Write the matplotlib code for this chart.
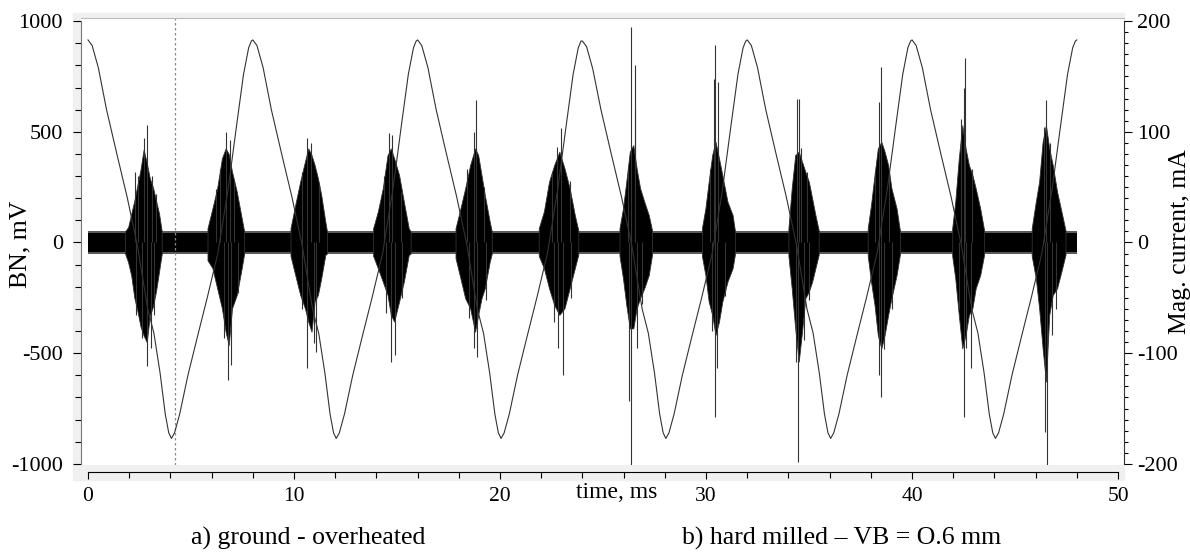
import matplotlib
matplotlib.use('Agg')
import matplotlib.pyplot as plt
from matplotlib.patches import Rectangle
from matplotlib.ticker import MultipleLocator

plt.rcParams['font.family'] = ['Liberation Serif', 'DejaVu Serif']

# magnetising current, mA (right axis), one row per 8 ms cycle
current_t = [
    0.0, 0.2, 0.5, 0.9, 1.4, 1.9, 2.4, 2.9, 3.2, 3.5, 3.75, 3.92, 4.05, 4.2, 4.45, 4.85, 5.3, 5.8, 6.3, 6.8, 7.2, 7.55, 7.8, 7.93,
    8.0, 8.2, 8.5, 8.9, 9.4, 9.9, 10.4, 10.9, 11.2, 11.5, 11.75, 11.92, 12.05, 12.2, 12.45, 12.85, 13.3, 13.8, 14.3, 14.8, 15.2, 15.55, 15.8, 15.93,
    16.0, 16.2, 16.5, 16.9, 17.4, 17.9, 18.4, 18.9, 19.2, 19.5, 19.75, 19.92, 20.05, 20.2, 20.45, 20.85, 21.3, 21.8, 22.3, 22.8, 23.2, 23.55, 23.8, 23.93,
    24.0, 24.2, 24.5, 24.9, 25.4, 25.9, 26.4, 26.9, 27.2, 27.5, 27.75, 27.92, 28.05, 28.2, 28.45, 28.85, 29.3, 29.8, 30.3, 30.8, 31.2, 31.55, 31.8, 31.93,
    32.0, 32.2, 32.5, 32.9, 33.4, 33.9, 34.4, 34.9, 35.2, 35.5, 35.75, 35.92, 36.05, 36.2, 36.45, 36.85, 37.3, 37.8, 38.3, 38.8, 39.2, 39.55, 39.8, 39.93,
    40.0, 40.2, 40.5, 40.9, 41.4, 41.9, 42.4, 42.9, 43.2, 43.5, 43.75, 43.92, 44.05, 44.2, 44.45, 44.85, 45.3, 45.8, 46.3, 46.8, 47.2, 47.55, 47.8, 47.93,
    48.0,
]
current_ma = [
    183, 178, 158, 120, 80, 41, -3, -60, -82, -118, -155, -172, -177, -172, -155, -120, -86, -49, -10, 48, 104, 152, 176, 182,
    183, 178, 158, 120, 80, 41, -3, -60, -82, -118, -155, -172, -177, -172, -155, -120, -86, -49, -10, 48, 104, 152, 176, 182,
    183, 178, 158, 120, 80, 41, -3, -60, -82, -118, -155, -172, -177, -172, -155, -120, -86, -49, -10, 48, 104, 152, 176, 182,
    182, 177, 157, 120, 80, 41, -3, -60, -82, -118, -155, -172, -177, -172, -155, -120, -86, -49, -10, 48, 104, 152, 176, 182,
    183, 178, 158, 120, 80, 41, -3, -60, -82, -118, -155, -172, -177, -172, -155, -120, -86, -49, -10, 48, 104, 152, 176, 182,
    183, 178, 158, 120, 80, 41, -3, -60, -82, -118, -155, -172, -177, -172, -155, -120, -86, -49, -10, 48, 104, 152, 176, 182,
    183,
]

# Barkhausen noise: record span, dense background level and its ragged fringe, mV
trace_span = [0.0, 48.0]
noise_level = 45
noise_fringe = 54

# envelope of each noise burst (time ms, upper mV, lower mV)
burst_t = [
    [1.8, 1.95, 2.1, 2.25, 2.4, 2.55, 2.7, 2.85, 3.0, 3.15, 3.3, 3.45, 3.58],
    [5.8, 6.04, 6.27, 6.5, 6.68, 6.83, 6.99, 7.22, 7.46, 7.58],
    [9.83, 10.06, 10.3, 10.53, 10.69, 10.85, 11.0, 11.16, 11.32, 11.52, 11.6],
    [13.84, 14.07, 14.31, 14.54, 14.7, 14.86, 15.1, 15.33, 15.57, 15.66],
    [17.84, 18.08, 18.31, 18.55, 18.79, 18.94, 19.1, 19.26, 19.5, 19.6],
    [21.88, 22.13, 22.38, 22.63, 22.88, 23.13, 23.38, 23.63, 23.8],
    [25.8, 25.97, 26.13, 26.3, 26.47, 26.63, 26.8, 27.0, 27.22, 27.38],
    [29.8, 29.97, 30.13, 30.3, 30.46, 30.63, 30.79, 31.04, 31.29, 31.4],
    [34.0, 34.16, 34.33, 34.5, 34.66, 34.82, 34.99, 35.15, 35.31, 35.47],
    [37.85, 38.01, 38.18, 38.34, 38.51, 38.67, 38.84, 39.0, 39.25, 39.41],
    [41.95, 42.1, 42.27, 42.44, 42.6, 42.76, 42.93, 43.09, 43.31, 43.5],
    [45.81, 46.01, 46.17, 46.34, 46.5, 46.66, 46.83, 47.04, 47.29, 47.45],
]
burst_hi = [
    [50, 70, 130, 190, 260, 330, 420, 360, 290, 250, 190, 130, 50],
    [64, 154, 245, 380, 425, 400, 320, 230, 110, 50],
    [64, 170, 275, 365, 425, 395, 350, 290, 215, 94, 50],
    [64, 140, 245, 395, 425, 380, 305, 185, 64, 50],
    [64, 154, 245, 350, 425, 395, 305, 215, 94, 50],
    [64, 140, 275, 350, 410, 335, 245, 124, 55],
    [64, 154, 275, 410, 440, 335, 245, 185, 124, 55],
    [64, 154, 275, 395, 455, 380, 305, 185, 124, 55],
    [64, 245, 395, 410, 365, 320, 275, 200, 124, 55],
    [64, 170, 305, 425, 455, 410, 350, 245, 154, 55],
    [64, 185, 380, 530, 425, 350, 305, 245, 154, 55],
    [64, 185, 275, 455, 530, 425, 350, 230, 124, 55],
]
burst_lo = [
    [-50, -90, -150, -250, -310, -380, -420, -450, -330, -290, -220, -130, -50],
    [-80, -116, -207, -297, -403, -463, -297, -237, -116, -50],
    [-60, -147, -237, -297, -357, -403, -267, -237, -162, -56, -50],
    [-60, -116, -177, -237, -327, -357, -267, -177, -56, -50],
    [-70, -162, -252, -297, -403, -327, -252, -207, -87, -50],
    [-60, -116, -207, -282, -327, -297, -207, -116, -55],
    [-60, -162, -282, -388, -388, -297, -252, -207, -147, -55],
    [-60, -147, -267, -327, -418, -357, -267, -177, -116, -55],
    [-60, -207, -388, -538, -403, -252, -222, -177, -116, -55],
    [-60, -177, -282, -418, -478, -418, -327, -252, -147, -55],
    [-60, -162, -327, -478, -418, -327, -297, -207, -147, -55],
    [-60, -162, -297, -478, -628, -327, -237, -207, -116, -55],
]

# single spikes sticking out of the bursts
spike_t = [2.84, 2.71, 2.30, 2.45, 3.1, 3.3, 2.87, 2.33, 2.6, 3.2, 3.07,
           6.68, 6.9, 6.4, 6.2, 7.1, 6.8, 6.95, 6.6, 7.3,
           10.65, 10.83, 10.4, 11.2, 10.65, 10.95, 11.05, 10.4,
           14.6, 14.78, 14.35, 15.2, 14.73, 14.9, 14.45, 15.25,
           18.84, 18.75, 18.4, 19.2, 18.75, 18.9, 18.5, 19.3,
           22.97, 22.75, 22.5, 23.4, 23.05, 22.83, 22.6, 23.45,
           26.35, 26.53, 26.57, 26.2, 26.38, 26.28, 26.63, 26.9,
           30.43, 30.58, 30.38, 30.2, 30.43, 30.55, 30.3, 30.9,
           34.4, 34.53, 34.63, 34.9, 34.48, 34.35, 34.75, 35.0,
           38.47, 38.42, 38.2, 38.9, 38.4, 38.48, 38.65, 39.05,
           42.58, 42.5, 42.4, 42.9, 42.5, 42.62, 42.84, 42.3,
           46.5, 46.4, 46.7, 46.53, 46.46, 46.8, 47.0]
spike_mv = [530, 470, 320, 300, 300, 220, -560, -327, -430, -327, -478,
            500, 463, 330, 240, 280, -620, -553, -430, -230,
            470, 448, 320, 270, -568, -455, -493, -300,
            493, 485, 300, 230, -538, -508, -320, -250,
            643, 500, 330, 250, -478, -515, -340, -260,
            515, 430, 320, 280, -598, -478, -360, -250,
            975, 800, 605, 330, -1012, -718, -478, -280,
            892, 726, 740, 330, -786, -568, -400, -240,
            650, 650, 425, 320, -990, -540, -440, -260,
            794, 636, 320, 310, -598, -696, -480, -300,
            832, 696, 560, 330, -786, -478, -568, -300,
            643, 520, 450, -1012, -855, -420, -300]

marker_t = 4.2

W, H = 1190, 554
fig = plt.figure(figsize=(W / 100, H / 100), dpi=100)
fig.patches.append(Rectangle((73 / W, 1 - 480 / H), (1124 - 73) / W, (480 - 13) / H,
                             transform=fig.transFigure, color='#f0f0f0', zorder=-10))

ax = fig.add_axes([81 / W, 1 - 465 / H, (1124 - 81) / W, (465 - 18) / H])
ax.set_facecolor('white')

ax.fill_between(trace_span, [noise_fringe] * 2, [-noise_fringe] * 2, color='#5a5a5a', lw=0)
ax.fill_between(trace_span, [noise_level] * 2, [-noise_level] * 2, color='black', lw=0)
for t, hi, lo in zip(burst_t, burst_hi, burst_lo):
    ax.fill_between(t, hi, lo, color='black', lw=0.6, edgecolor='#333333')
ax.vlines(spike_t, 0, spike_mv, color='#333333', lw=0.8)
ax.axvline(marker_t, color='#888888', lw=0.9, ls=(0, (2, 2)))

ax.set_xlim(-0.34, 50.29)
ax.set_ylim(-1005, 1014)
ax.xaxis.set_major_locator(MultipleLocator(10))
ax.xaxis.set_minor_locator(MultipleLocator(2))
ax.yaxis.set_minor_locator(MultipleLocator(100))
ax.set_yticks([-1000, -500, 0, 500, 1000])
ax.set_yticklabels(['-1000', '-500', '0', '500', '1000'])

ax.spines['bottom'].set_position(('outward', 5))
ax.spines['bottom'].set_bounds(0, 50)
ax.spines['left'].set_bounds(-1000, 1000)
ax.spines['left'].set_color('#777777')
ax.spines['top'].set_color('#bbbbbb')
ax.spines['right'].set_visible(False)
ax.tick_params(axis='both', which='both', direction='out', labelsize=16, width=0.8)
ax.tick_params(axis='y', which='major', length=5.5, pad=7.5)
ax.tick_params(axis='y', which='minor', length=4)
ax.tick_params(axis='x', which='major', length=5, pad=6, labelsize=15.5)
ax.tick_params(axis='x', which='minor', length=4)

ax2 = ax.twinx()
ax2.plot(current_t, current_ma, color='#333333', lw=0.8)
ax2.set_ylim(-201, 202.8)
ax2.yaxis.set_minor_locator(MultipleLocator(10))
ax2.set_yticks([-200, -100, 0, 100, 200])
ax2.set_yticklabels(['-200', '-100', '0', '100', '200'])
for s in ['top', 'left', 'bottom']:
    ax2.spines[s].set_visible(False)
ax2.spines['right'].set_bounds(-200, 200)
ax2.spines['right'].set_color('#333333')
ax2.tick_params(axis='y', which='both', direction='out', labelsize=16, width=0.8)
ax2.tick_params(axis='y', which='major', length=5.5, pad=4)
ax2.tick_params(axis='y', which='minor', length=3)

fig.text(20 / W, 1 - 244 / H, 'BN, mV', rotation=90, ha='center', va='center', fontsize=18.5)
fig.text(1180 / W, 1 - 242 / H, 'Mag. current, mA', rotation=90, ha='center', va='center', fontsize=18.5)
fig.text(617 / W, 1 - 493 / H, 'time, ms', ha='center', va='center', fontsize=17)
fig.text(308 / W, 1 - 538 / H, 'a) ground - overheated', ha='center', va='center', fontsize=18.5)
fig.text(842 / W, 1 - 538 / H, 'b) hard milled \u2013 VB = O.6 mm', ha='center', va='center', fontsize=18.5)

fig.savefig('out.png', dpi=100)
